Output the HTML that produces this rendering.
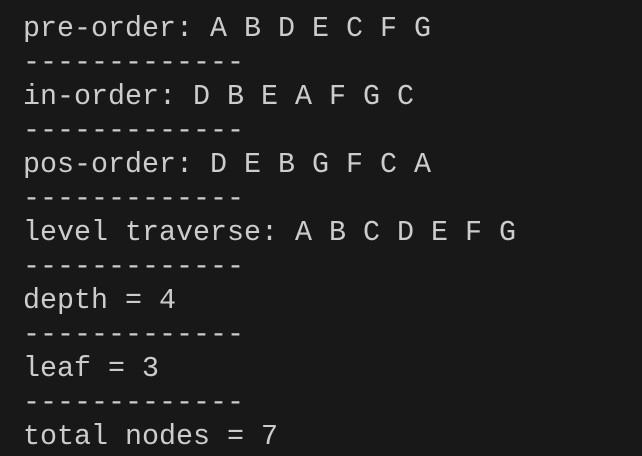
<!DOCTYPE html>
<html><head><style>
html,body{margin:0;padding:0;background:#181818;width:642px;height:456px;overflow:hidden}
pre{margin:0;position:absolute;left:23px;top:12px;font-family:"Liberation Mono","DejaVu Sans Mono",monospace;font-size:28.33px;line-height:34px;color:#cccccc}
</style></head><body>
<pre>pre-order: A B D E C F G
-------------
in-order: D B E A F G C
-------------
pos-order: D E B G F C A
-------------
level traverse: A B C D E F G
-------------
depth = 4
-------------
leaf = 3
-------------
total nodes = 7
</pre>
</body></html>
